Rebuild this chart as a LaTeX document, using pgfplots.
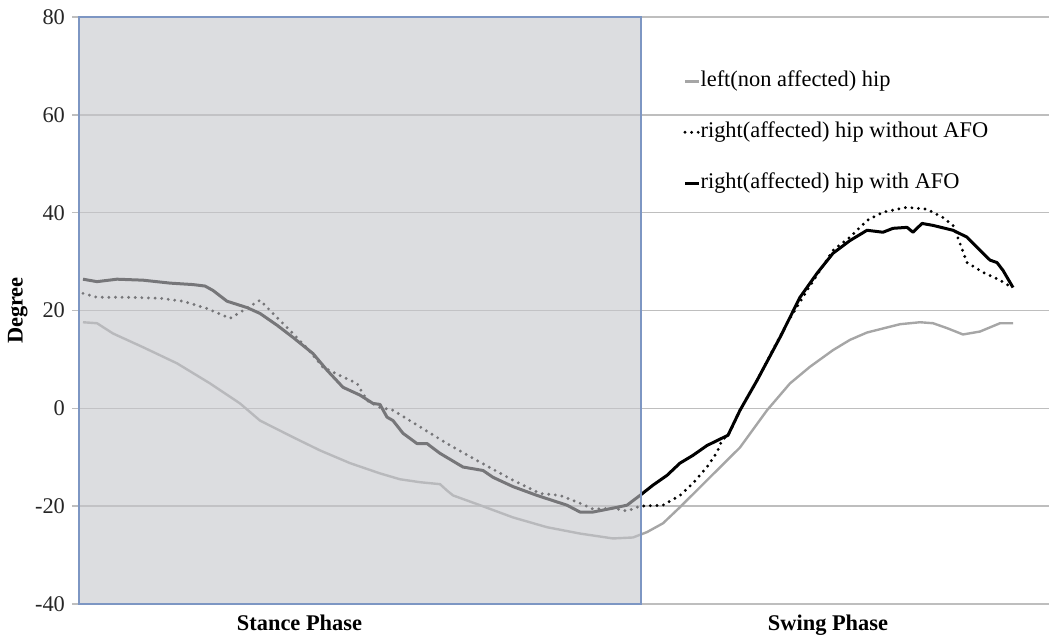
\documentclass[border=0pt]{standalone}
\usepackage{pgfplots}
\pgfplotsset{compat=1.18}
\usepackage{fontspec}
\setmainfont{Liberation Serif}
\definecolor{lightline}{RGB}{166,166,166}
\definecolor{boxfill}{RGB}{197,198,203}
\definecolor{boxborder}{RGB}{125,150,195}
\definecolor{gridc}{RGB}{190,190,190}
\begin{document}
\begin{tikzpicture}
\begin{axis}[
  at={(0,0)}, anchor=south west,
  scale only axis,
  width=485pt, height=293.5pt,
  xmin=79, xmax=1049,
  ymin=-40, ymax=80,
  ytick={-40,-20,0,20,40,60,80},
  xtick=\empty,
  ytick pos=left,
  tick align=outside,
  major tick length=3.5pt,
  ytick style={draw=gridc, line width=0.75pt},
  ymajorgrids,
  grid style={draw=gridc, line width=0.75pt},
  axis line style={draw=none},
  /pgf/number format/assume math mode=true,
  yticklabel style={font=\fontsize{11.2}{13.4}\selectfont, text=black!85},
  ylabel={Degree},
  every axis y label/.style={at={(axis description cs:-0.063,0.5)}, rotate=90, anchor=center,
    font=\fontsize{11.2}{13.4}\selectfont\bfseries},
  legend cell align=left,
  legend image code/.code={\draw[#1] (0pt,0pt) -- (7pt,0pt);},
  legend style={at={(axis cs:683,69.9)}, anchor=north west, draw=none, fill=none,
    inner sep=0pt, row sep=11pt,
    nodes={inner xsep=0pt, inner ysep=2pt, text height=8pt, text depth=2.5pt},
    font=\fontsize{11.2}{13.4}\selectfont},
  clip=false,
]
% left (non affected) hip
\addplot[lightline, line width=1.2pt, line join=round] coordinates {
(83,17.6) (97,17.4) (113,15.3) (143,12.5) (177,9.2) (210,5.1) (240,1.0) (260,-2.5) (293,-5.9)
(320,-8.6) (350,-11.2) (380,-13.3) (400,-14.5) (420,-15.1) (440,-15.5) (447,-16.8) (453,-17.8)
(480,-19.8) (513,-22.3) (547,-24.3) (580,-25.6) (613,-26.6) (633,-26.4) (647,-25.3) (663,-23.5)
(680,-20.2) (707,-14.7) (740,-8.0) (767,-0.4) (790,5.1) (810,8.5) (833,11.9) (850,14.0) (867,15.5)
(900,17.2) (920,17.6) (933,17.4) (947,16.4) (963,15.1) (980,15.7) (1000,17.4) (1013,17.4)
};
\addlegendentry{left(non affected) hip}
% right (affected) hip without AFO
\addplot[black, line width=1.6pt, line cap=round, dash pattern=on 0pt off 3.3pt] coordinates {
(83,23.5) (97,22.7) (127,22.7) (160,22.5) (183,21.9) (207,20.4) (230,18.4) (243,20.0) (260,22.1)
(273,19.4) (293,15.3) (307,12.3) (323,8.4) (340,6.7) (357,5.1) (367,1.6) (380,0.2) (393,-0.4)
(413,-2.9) (447,-7.2) (480,-11.0) (513,-14.7) (540,-17.4) (560,-17.8) (580,-19.4) (593,-20.6)
(613,-20.4) (627,-21.0) (640,-20.0) (663,-19.8) (680,-17.8) (693,-15.3) (707,-12.0) (717,-9.0)
(722,-6.5) (728,-5.5) (740,-0.4) (757,5.7) (787,17.4) (807,24.1) (833,32.3) (850,35.0) (867,38.4)
(883,40.1) (907,41.1) (927,40.7) (943,39.0) (953,37.4) (960,33.7) (967,29.8) (983,27.8)
(1000,26.2) (1012,24.7)
};
\addlegendentry{right(affected) hip without AFO}
% right (affected) hip with AFO
\addplot[black, line width=1.5pt, line join=round] coordinates {
(83,26.4) (97,25.9) (117,26.4) (143,26.2) (170,25.6) (193,25.3) (205,25.0) (213,24.1) (227,21.9)
(247,20.6) (260,19.4) (277,17.0) (293,14.5) (313,11.2) (327,7.8) (343,4.3) (360,2.7) (373,1.0)
(380,0.8) (387,-1.8) (393,-2.5) (403,-5.1) (417,-7.2) (427,-7.2) (440,-9.2) (463,-12.0)
(483,-12.7) (493,-14.1) (513,-16.0) (537,-17.8) (567,-19.8) (580,-21.2) (593,-21.2) (613,-20.4)
(627,-19.8) (640,-17.8) (653,-15.7) (667,-13.7) (680,-11.2) (693,-9.6) (707,-7.6) (720,-6.3)
(728,-5.5) (740,-0.4) (757,5.7) (780,14.5) (800,22.7) (817,27.6) (833,31.7) (850,34.3) (867,36.4)
(883,36.0) (893,36.8) (907,37.0) (913,36.0) (922,37.8) (933,37.4) (953,36.4) (967,35.0)
(980,32.3) (990,30.3) (997,29.8) (1003,28.2) (1013,24.7)
};
\addlegendentry{right(affected) hip with AFO}
% stance phase shading
\fill[boxfill, fill opacity=0.6] (axis cs:79,-40) rectangle (axis cs:641,80);
\draw[boxborder, line width=0.8pt] (axis cs:79,-40) rectangle (axis cs:641,80);
\node[font=\fontsize{11.2}{13.4}\selectfont\bfseries, anchor=base] at (axis cs:299.5,-40) [yshift=-13.25pt] {Stance Phase};
\node[font=\fontsize{11.2}{13.4}\selectfont\bfseries, anchor=base] at (axis cs:828,-40) [yshift=-13.25pt] {Swing Phase};
\end{axis}
\pgfresetboundingbox
\path[use as bounding box] (-39.5pt,-17.5pt) rectangle (485.5pt,302pt);
\end{tikzpicture}
\end{document}
